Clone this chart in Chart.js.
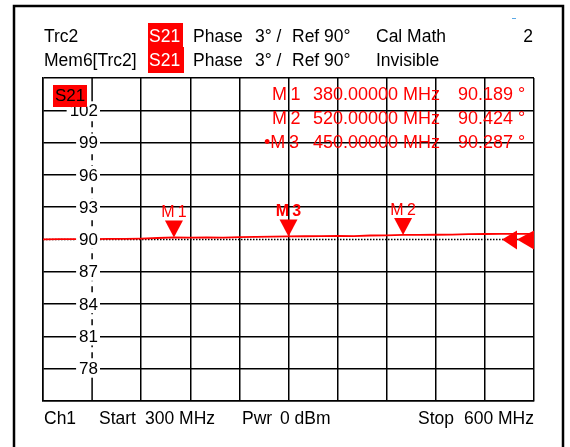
<!DOCTYPE html>
<html>
<head>
<meta charset="utf-8">
<script src="https://cdn.jsdelivr.net/npm/chart.js@4.4.1/dist/chart.umd.min.js"></script>
<style>
  html, body { margin: 0; padding: 0; background: #fff; }
  #wrap { width: 570px; height: 447px; position: relative; }
</style>
</head>
<body>
<div id="wrap"><canvas id="vna"></canvas></div>
<script>
// trace Trc2 (S21 phase)
const freqMHz = [300, 310, 320, 330, 340, 350, 360, 370, 380, 390, 400, 410, 420, 430, 440, 450,
                 460, 470, 480, 490, 500, 510, 520, 530, 540, 550, 560, 570, 580, 590, 600];
const phaseTrc2 = [90.02, 90.03, 90.04, 90.03, 90.06, 90.05, 90.09, 90.14, 90.189, 90.17, 90.20, 90.18, 90.22, 90.24, 90.26, 90.287,
                   90.30, 90.31, 90.33, 90.31, 90.37, 90.39, 90.424, 90.43, 90.44, 90.45, 90.50, 90.51, 90.52, 90.52, 90.53];

const yTicks = [102, 99, 96, 93, 90, 87, 84, 81, 78];
const refLevel = 90;

const markerNames = ['M1', 'M2', 'M3'];
const markerFreq = [380, 520, 450];
const markerPhase = [90.189, 90.424, 90.287];
const activeMarker = 'M3';

const headerRow1 = ['Trc2', 'S21', 'Phase', '3° /', 'Ref 90°', 'Cal Math', '2'];
const headerRow2 = ['Mem6[Trc2]', 'S21', 'Phase', '3° /', 'Ref 90°', 'Invisible'];
const footer = ['Ch1', 'Start', '300 MHz', 'Pwr', '0 dBm', 'Stop', '600 MHz'];

const FONT = '"Liberation Sans", Arial, sans-serif';
const RED = '#ff0000';

function font(size, bold) {
    return (bold ? 'bold ' : '') + size + 'px ' + FONT;
}

const vnaOverlay = {
    id: 'vnaOverlay',
    beforeDatasetsDraw(chart) {
        const ctx = chart.ctx;
        const area = chart.chartArea;
        const xs = chart.scales.x;
        const ys = chart.scales.y;
        ctx.save();
        // dotted reference line at 90
        const yRef = ys.getPixelForValue(refLevel);
        ctx.strokeStyle = '#000';
        ctx.lineWidth = 1.5;
        ctx.setLineDash([1.5, 1.5]);
        ctx.beginPath();
        ctx.moveTo(area.left, yRef);
        ctx.lineTo(area.right, yRef);
        ctx.stroke();
        // second vertical grid line, dashed between the scale labels
        const xd = xs.getPixelForValue(330);
        const yTop = ys.getPixelForValue(yTicks[0]);
        const yBot = ys.getPixelForValue(yTicks[yTicks.length - 1]);
        ctx.setLineDash([]);
        ctx.beginPath();
        ctx.moveTo(xd, area.top);
        ctx.lineTo(xd, yTop);
        ctx.moveTo(xd, yBot);
        ctx.lineTo(xd, area.bottom);
        ctx.stroke();
        ctx.setLineDash([6, 5]);
        ctx.beginPath();
        ctx.moveTo(xd, yTop);
        ctx.lineTo(xd, yBot);
        ctx.stroke();
        ctx.restore();
    },
    afterDatasetsDraw(chart) {
        const ctx = chart.ctx;
        const area = chart.chartArea;
        const xs = chart.scales.x;
        const ys = chart.scales.y;
        ctx.save();

        // y scale labels sitting inside the grid
        ctx.font = font(17);
        ctx.textAlign = 'right';
        ctx.textBaseline = 'middle';
        yTicks.forEach(v => {
            const y = ys.getPixelForValue(v);
            const w = ctx.measureText(String(v)).width;
            const xr = area.left + 55;
            ctx.fillStyle = '#fff';
            ctx.fillRect(xr - w - 3, y - 9, w + 5, 18);
            ctx.fillStyle = '#000';
            ctx.fillText(String(v), xr, y + 1);
        });

        // S21 tag in the plot corner
        ctx.fillStyle = RED;
        ctx.fillRect(area.left + 10, area.top + 7, 34, 22);
        ctx.fillStyle = '#000';
        ctx.textAlign = 'center';
        ctx.fillText('S21', area.left + 27, area.top + 18);

        // markers on the trace
        markerNames.forEach((name, i) => {
            const px = xs.getPixelForValue(markerFreq[i]);
            const py = ys.getPixelForValue(markerPhase[i]);
            ctx.fillStyle = RED;
            ctx.beginPath();
            ctx.moveTo(px, py);
            ctx.lineTo(px - 9, py - 17);
            ctx.lineTo(px + 9, py - 17);
            ctx.closePath();
            ctx.fill();
            ctx.font = font(16, name === activeMarker);
            ctx.textAlign = 'center';
            ctx.textBaseline = 'alphabetic';
            ctx.fillText(name.replace('M', 'M\u2009'), px, py - 20);
        });

        // reference level arrows at the right edge
        const yRef = ys.getPixelForValue(refLevel);
        ctx.fillStyle = RED;
        [[area.right - 32, area.right - 17], [area.right - 17, area.right]].forEach(t => {
            ctx.beginPath();
            ctx.moveTo(t[0], yRef);
            ctx.lineTo(t[1], yRef - 9);
            ctx.lineTo(t[1], yRef + 10);
            ctx.closePath();
            ctx.fill();
        });

        // marker readout
        ctx.font = font(18);
        ctx.textBaseline = 'middle';
        markerNames.forEach((name, row) => {
            const y = area.top + 17 + row * 24;
            ctx.fillStyle = RED;
            ctx.textAlign = 'left';
            ctx.fillText((name === activeMarker ? '\u2022' : '') + name.replace('M', 'M\u2009'),
                name === activeMarker ? 264 : 272, y);
            ctx.fillText(markerFreq[row].toFixed(5) + ' MHz', 313, y);
            ctx.fillText(markerPhase[row].toFixed(3) + ' °', 458, y);
        });
        ctx.restore();
    },
    afterDraw(chart) {
        const ctx = chart.ctx;
        ctx.save();
        // instrument frame
        ctx.strokeStyle = '#000';
        ctx.lineWidth = 2.5;
        ctx.strokeRect(14, 6, 549, 460);
        // small blue tick near the top
        ctx.strokeStyle = '#5aa9e6';
        ctx.lineWidth = 1;
        ctx.beginPath();
        ctx.moveTo(512, 18.5);
        ctx.lineTo(516, 18.5);
        ctx.stroke();

        // header
        ctx.font = font(17.5);
        ctx.textBaseline = 'middle';
        ctx.textAlign = 'left';
        ctx.fillStyle = RED;
        ctx.fillRect(148, 23, 35, 24);
        ctx.fillRect(148, 47, 36, 26);
        const rows = [[headerRow1, 37], [headerRow2, 61]];
        rows.forEach(r => {
            const t = r[0], y = r[1];
            ctx.fillStyle = '#000';
            ctx.fillText(t[0], 44, y);
            ctx.fillStyle = '#fff';
            ctx.fillText(t[1], 149, y);
            ctx.fillStyle = '#000';
            ctx.fillText(t[2], 193, y);
            ctx.fillText(t[3], 255, y);
            ctx.fillText(t[4], 292, y);
            ctx.fillText(t[5], 376, y);
        });
        ctx.textAlign = 'right';
        ctx.fillText(headerRow1[6], 533, 37);

        // footer
        ctx.textAlign = 'left';
        ctx.fillText(footer[0], 44, 419);
        ctx.fillText(footer[1], 99, 419);
        ctx.fillText(footer[2], 145, 419);
        ctx.fillText(footer[3], 242, 419);
        ctx.fillText(footer[4], 280, 419);
        ctx.fillText(footer[5], 418, 419);
        ctx.textAlign = 'right';
        ctx.fillText(footer[6], 534, 419);
        ctx.restore();
    }
};

new Chart(document.getElementById('vna'), {
    type: 'line',
    data: {
        datasets: [{
            label: 'Trc2',
            data: freqMHz.map((f, i) => ({ x: f, y: phaseTrc2[i] })),
            borderColor: RED,
            borderWidth: 1.8,
            pointRadius: 0,
            tension: 0,
            fill: false
        }]
    },
    options: {
        responsive: true,
        maintainAspectRatio: false,
        animation: false,
        events: [],
        layout: { padding: { left: 43, top: 78, right: 36, bottom: 46 } },
        plugins: { legend: { display: false }, tooltip: { enabled: false } },
        scales: {
            x: {
                type: 'linear',
                min: 300,
                max: 600,
                ticks: { display: false, stepSize: 30 },
                grid: {
                    drawTicks: false,
                    lineWidth: 1.5,
                    color: c => (c.tick && c.tick.value === 330) ? 'rgba(0,0,0,0)' : '#000'
                },
                border: { color: '#000', width: 1.5 }
            },
            y: {
                type: 'linear',
                min: 75,
                max: 105,
                ticks: { display: false, stepSize: 3 },
                grid: {
                    drawTicks: false,
                    lineWidth: 1.5,
                    color: c => (c.tick && c.tick.value === refLevel) ? 'rgba(0,0,0,0)' : '#000'
                },
                border: { color: '#000', width: 1.5 }
            }
        }
    },
    plugins: [vnaOverlay]
});
</script>
</body>
</html>
